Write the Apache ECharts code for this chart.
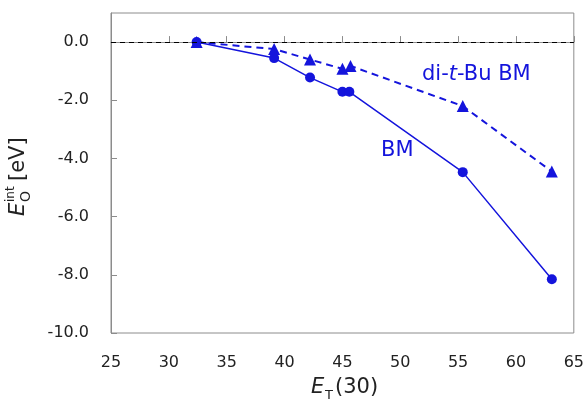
<!DOCTYPE html>
<html>
<head>
<meta charset="utf-8">
<script src="https://cdn.jsdelivr.net/npm/echarts@6/dist/echarts.min.js"></script>
<style>
  html, body { margin: 0; padding: 0; background: #fff; }
  #chart { width: 587px; height: 401px; }
</style>
</head>
<body>
<div id="chart"></div>
<script>
// E_T(30) solvent polarity values and interaction energies (eV)
const etBM = [32.4, 39.1, 42.2, 45.0, 45.6, 55.4, 63.1];
const eBM = [0.0, -0.55, -1.22, -1.71, -1.71, -4.47, -8.15];
const etDtb = [32.4, 39.1, 42.2, 45.0, 45.7, 55.4, 63.1];
const eDtb = [0.0, -0.24, -0.6, -0.92, -0.82, -2.2, -4.45];

const xTicks = [25, 30, 35, 40, 45, 50, 55, 60, 65];
const yTicks = [-10, -8, -6, -4, -2, 0];

const blue = '#1414DC';
const font = 'DejaVu Sans';

const pairs = (xs, ys) => xs.map((x, i) => [x, ys[i]]);

const chart = echarts.init(document.getElementById('chart'));
chart.setOption({
  animation: false,
  grid: {
    left: 111, right: 11, top: 13, bottom: 68,
    show: true, borderColor: '#8c8c8c', borderWidth: 1
  },
  xAxis: {
    type: 'value',
    min: xTicks[0], max: xTicks[xTicks.length - 1], interval: 5,
    axisLine: { lineStyle: { color: '#8c8c8c' } },
    axisTick: { inside: true, length: 6, lineStyle: { color: '#8c8c8c' } },
    axisLabel: { color: '#222', fontSize: 16, fontFamily: font, margin: 22 },
    splitLine: { show: false }
  },
  yAxis: {
    type: 'value',
    min: yTicks[0], max: 1, interval: 2,
    axisLine: { show: true, lineStyle: { color: '#8c8c8c' } },
    axisTick: { show: true, inside: true, length: 6, lineStyle: { color: '#8c8c8c' } },
    axisLabel: {
      color: '#222', fontSize: 16, fontFamily: font, margin: 22,
      align: 'right', verticalAlign: 'middle',
      alignMinLabel: 'right', verticalAlignMinLabel: 'middle',
      showMaxLabel: false,
      formatter: v => (yTicks.indexOf(v) >= 0 ? v.toFixed(1) : '')
    },
    splitLine: { show: false }
  },
  series: [
    {
      name: 'BM',
      type: 'line',
      data: pairs(etBM, eBM),
      symbol: 'circle', symbolSize: 10,
      itemStyle: { color: blue },
      lineStyle: { color: blue, width: 1.5 },
      markLine: {
        silent: true, symbol: 'none', label: { show: false },
        lineStyle: { color: '#000', type: [5, 4], width: 1 },
        data: [{ yAxis: 0 }]
      }
    },
    {
      name: 'di-t-Bu BM',
      type: 'line',
      data: pairs(etDtb, eDtb),
      symbol: 'triangle', symbolSize: 12,
      itemStyle: { color: blue },
      lineStyle: { color: blue, width: 2, type: [7, 5] }
    }
  ],
  graphic: [
    {
      type: 'text', left: 422, top: 64,
      style: {
        text: '{n|di-}{i|t}{n|-Bu BM}',
        rich: {
          n: { fontSize: 21, fontFamily: font, fill: blue },
          i: { fontSize: 21, fontFamily: font, fontStyle: 'italic', fill: blue }
        }
      }
    },
    {
      type: 'text', left: 381, top: 140,
      style: { text: 'BM', fontSize: 21, fontFamily: font, fill: blue }
    },
    // x axis title: E_T(30)
    {
      type: 'group', left: 311, top: 377,
      children: [
        { type: 'text', x: 0, y: 0, style: { text: 'E', fontSize: 21, fontFamily: font, fontStyle: 'italic', fill: '#222' } },
        { type: 'text', x: 14, y: 12, style: { text: 'T', fontSize: 13, fontFamily: font, fill: '#222' } },
        { type: 'text', x: 24, y: 0, style: { text: '(30)', fontSize: 21, fontFamily: font, fill: '#222' } }
      ]
    },
    // y axis title: E_O^int [eV], rotated
    {
      type: 'group', x: 8, y: 216, rotation: Math.PI / 2,
      children: [
        { type: 'text', x: 0, y: 0, style: { text: 'E', fontSize: 21, fontFamily: font, fontStyle: 'italic', fill: '#222' } },
        { type: 'text', x: 14, y: -3, style: { text: 'int', fontSize: 12, fontFamily: font, fill: '#222' } },
        { type: 'text', x: 14, y: 11, style: { text: 'O', fontSize: 14, fontFamily: font, fill: '#222' } },
        { type: 'text', x: 35, y: 0, style: { text: '[eV]', fontSize: 21, fontFamily: font, fill: '#222' } }
      ]
    }
  ]
});
</script>
</body>
</html>
